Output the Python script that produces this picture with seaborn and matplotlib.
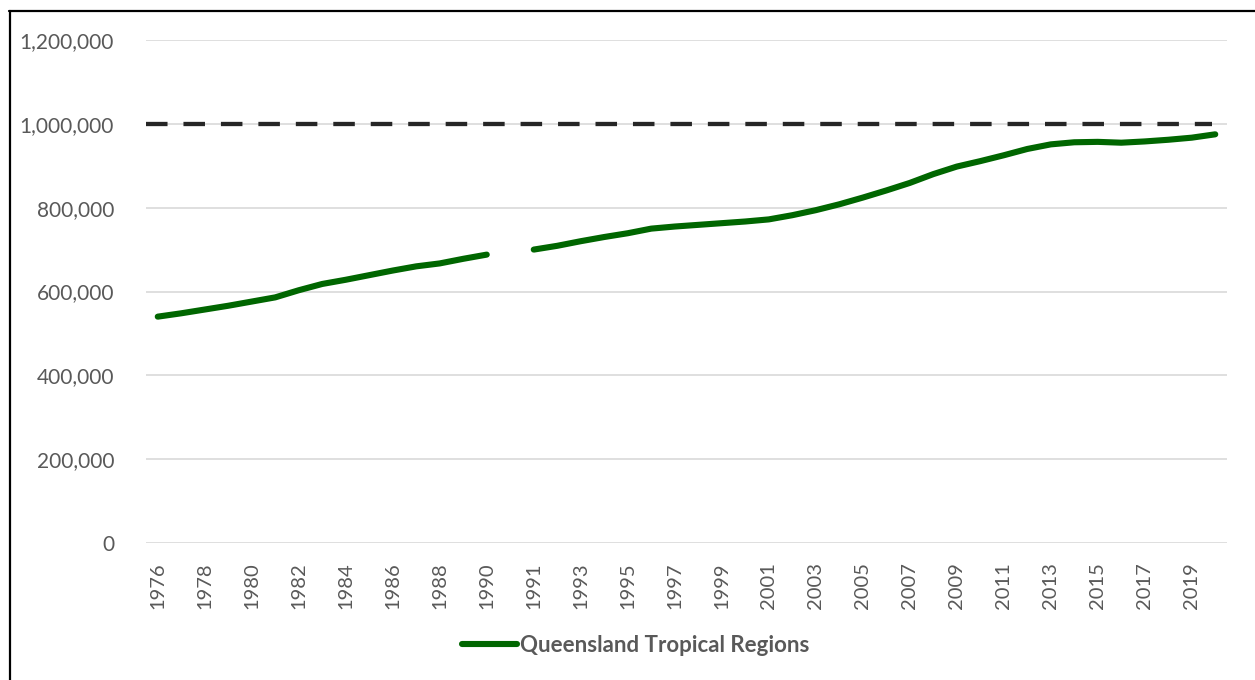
### Queensland Tropical Regions population, 1976-2020
## line chart with a 1,000,000 reference line

import matplotlib.pyplot as plt
import numpy as np
import pandas as pd
import seaborn as sns
from matplotlib.lines import Line2D

## data
years_early = list(range(1976, 1991))
pop_early = [540000, 548000, 557000, 566000, 576000, 586000, 603000, 618000,
             628000, 639000, 650000, 660000, 667000, 678000, 688000]
years_late = list(range(1991, 2021))
pop_late = [700000, 709000, 720000, 730000, 739000, 750000, 755000, 759000,
            763000, 767000, 772000, 782000, 794000, 808000, 824000, 841000,
            859000, 880000, 898000, 911000, 925000, 940000, 951000, 956000,
            957000, 955000, 958000, 962000, 967000, 975000]
target = 1000000
series_name = "Queensland Tropical Regions"
y_ticks = [0, 200000, 400000, 600000, 800000, 1000000, 1200000]

# category axis: a blank slot sits between 1990 and 1991
categories = [str(y) for y in years_early] + [""] + [str(y) for y in years_late]

df = pd.DataFrame({
    "pos": list(range(len(years_early))) + list(range(len(years_early) + 1, len(categories))),
    "population": pop_early + pop_late,
    "segment": [0] * len(years_early) + [1] * len(years_late),
})

sns.set_theme(style="white")
plt.rcParams["font.family"] = ["Lato", "DejaVu Sans"]
text_col = "#595959"
green = "#006600"

W, H = 1255, 680
fig = plt.figure(figsize=(W / 100, H / 100), dpi=100)
ax = fig.add_axes([146 / W, 1 - 543 / H, 1081 / W, 503 / H])

# gridlines
for v in y_ticks:
    ax.axhline(v, color="#d9d9d9", lw=1.2, zorder=0)

# target line
ax.hlines(target, -0.5, 44.85, colors="#262626", lw=3.1, linestyles=(0, (5, 3.7)),
          zorder=2)

sns.lineplot(data=df, x="pos", y="population", units="segment", estimator=None,
             color=green, lw=4.4, solid_capstyle="round", solid_joinstyle="round",
             ax=ax, zorder=3, legend=False)

ax.set_xlim(-0.5, len(categories) - 0.5)
ax.set_ylim(0, 1200000)
ax.set_yticks(y_ticks)
ax.set_yticklabels([f"{v:,}" for v in y_ticks], fontsize=15, color=text_col)
tick_pos = list(range(0, len(categories), 2))
ax.set_xticks(tick_pos)
ax.set_xticklabels([categories[i] for i in tick_pos], rotation=90, fontsize=14.5,
                   color=text_col)
ax.tick_params(axis="y", length=0, pad=23)
ax.tick_params(axis="x", length=0, pad=14)
ax.set_xlabel("")
ax.set_ylabel("")
sns.despine(ax=ax, left=True, bottom=True)

# legend
handle = Line2D([], [], color=green, lw=4.4, solid_capstyle="round")
leg = fig.legend([handle], [series_name], loc="center",
                 bbox_to_anchor=(636 / W, 1 - 645 / H), frameon=False,
                 handlelength=2.45, handletextpad=0.15,
                 prop={"size": 16, "weight": "bold"})
for t in leg.get_texts():
    t.set_color(text_col)

# chart frame (cropped on right and bottom)
fig.add_artist(Line2D([9.5 / W, 9.5 / W], [0, 1 - 11 / H], color="black", lw=1.6,
                      transform=fig.transFigure))
fig.add_artist(Line2D([9 / W, 1], [1 - 11 / H, 1 - 11 / H], color="black", lw=1.6,
                      transform=fig.transFigure))

fig.savefig("out.png", dpi=100)
plt.close(fig)
